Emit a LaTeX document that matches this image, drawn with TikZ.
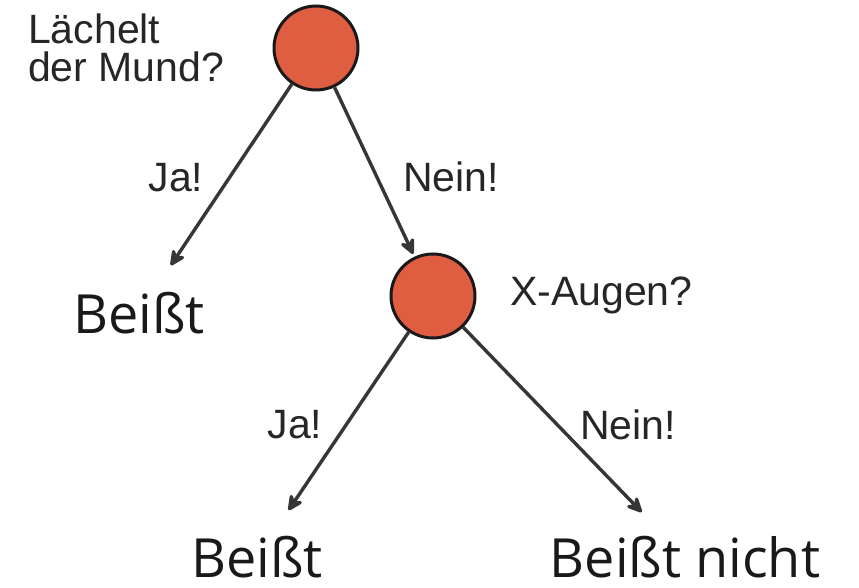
\documentclass[tikz,border=0pt]{standalone}
\usepackage{fontspec}
\setmainfont{Liberation Sans}
\newfontfamily\outcomefont{Open Sans}
\usetikzlibrary{arrows.meta}
\definecolor{nodered}{HTML}{DF5D40}
\definecolor{edgegray}{HTML}{363636}
\tikzset{
  question/.style={circle, draw=black!90, line width=3pt, fill=nodered,
    minimum size=84pt, inner sep=0pt},
  lbl/.style={inner sep=0pt, text=black!85, font=\fontsize{41}{41}\selectfont},
  outcome/.style={inner sep=0pt, text=black!90, font=\outcomefont\fontsize{54}{54}\selectfont},
  arr/.style={draw=edgegray, line width=3.4pt, line join=round,
    -{Stealth[length=20pt, width=19pt, inset=7pt, round]}}
}
\begin{document}
\begin{tikzpicture}[x=1pt, y=-1pt]
  \useasboundingbox (0,0) rectangle (859,588);

  % decision nodes
  \node[question] (c1) at (316,48) {};
  \node[question] (c2) at (433,296) {};

  % questions next to the decision nodes
  \node[lbl, align=left, anchor=north west] (q1) at (28,14) {Lächelt\\[-3pt]der Mund?};
  \node[lbl, anchor=west] (q2) at (510,295) {X-Augen?};

  % outcomes
  \node[outcome] (b1) at (139,313) {Beißt};
  \node[outcome] (b2) at (257,557) {Beißt};
  \node[outcome] (b3) at (685,557) {Beißt nicht};

  % branches
  \draw[arr, shorten >=32pt] (c1) -- (b1);
  \draw[arr, shorten >=3pt] (c1) -- (c2);
  \draw[arr, shorten >=31pt] (c2) -- (b2);
  \draw[arr, shorten >=33pt] (c2) -- (b3);

  % branch labels
  \node[lbl] (j1) at (176,178) {Ja!};
  \node[lbl] (n1) at (451,177) {Nein!};
  \node[lbl] (j2) at (295,425) {Ja!};
  \node[lbl] (n2) at (628,425) {Nein!};
\end{tikzpicture}
\end{document}
